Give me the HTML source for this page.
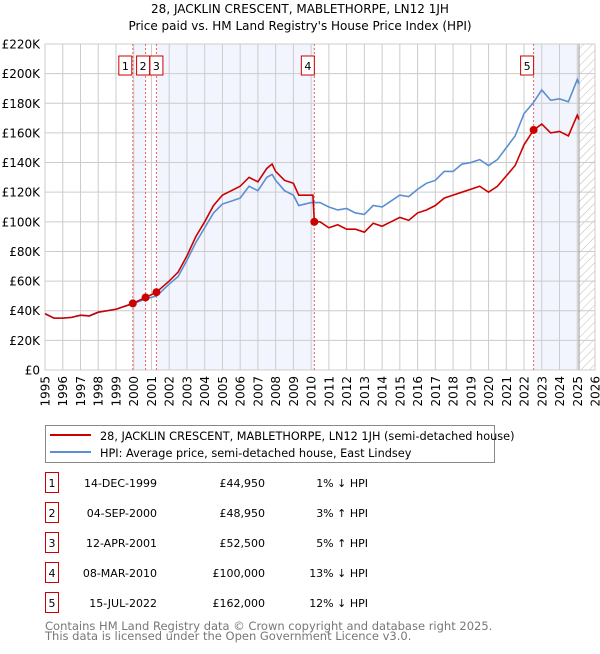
<!DOCTYPE html>
<html><head><meta charset="utf-8"><style>
body{margin:0;background:#fff;font-family:"DejaVu Sans","Liberation Sans",sans-serif;}
svg text{font-family:"DejaVu Sans","Liberation Sans",sans-serif;}
</style></head><body>
<svg id="chart" width="600" height="650" xmlns="http://www.w3.org/2000/svg">
<defs><pattern id="hatch" width="6" height="6" patternUnits="userSpaceOnUse" patternTransform="rotate(45)"><line x1="0" y1="0" x2="0" y2="6" stroke="#bbb" stroke-width="1"/></pattern></defs>
<text x="300" y="13" text-anchor="middle" font-size="12">28, JACKLIN CRESCENT, MABLETHORPE, LN12 1JH</text>
<text x="300" y="30" text-anchor="middle" font-size="12">Price paid vs. HM Land Registry's House Price Index (HPI)</text>
<g id="plot"></g>
<rect x="45.5" y="425.5" width="449" height="37" fill="#fff" stroke="#888"/>
<line x1="50" y1="435" x2="91" y2="435" stroke="#cc0000" stroke-width="2"/>
<text x="100" y="440" font-size="11.3">28, JACKLIN CRESCENT, MABLETHORPE, LN12 1JH (semi-detached house)</text>
<line x1="50" y1="452" x2="91" y2="452" stroke="#5b8fd1" stroke-width="2"/>
<text x="100" y="457" font-size="11.3">HPI: Average price, semi-detached house, East Lindsey</text>
<g id="table"></g>
<text x="45" y="630" font-size="11.5" fill="#777">Contains HM Land Registry data © Crown copyright and database right 2025.</text>
<text x="45" y="640" font-size="11.5" fill="#777">This data is licensed under the Open Government Licence v3.0.</text>
</svg>
<script>
const hpiYears=[1995,1995.5,1996,1996.5,1997,1997.5,1998,1998.5,1999,1999.5,2000,2000.7,2001.3,2002,2002.5,2003,2003.5,2004,2004.5,2005,2005.5,2006,2006.5,2007,2007.5,2007.8,2008,2008.5,2009,2009.3,2010,2010.5,2011,2011.5,2012,2012.5,2013,2013.5,2014,2014.5,2015,2015.5,2016,2016.5,2017,2017.5,2018,2018.5,2019,2019.5,2020,2020.5,2021,2021.5,2022,2022.5,2023,2023.5,2024,2024.5,2025,2025.1];
const hpiValues=[38,35,35,35.5,37,36.5,39,40,41,43,45,48,50,58,63,74,86,96,106,112,114,116,124,121,130,132,128,121,118,111,113,113,110,108,109,106,105,111,110,114,118,117,122,126,128,134,134,139,140,142,138,142,150,158,173,180,189,182,183,181,196,193];
const redYears=[1995,1995.5,1996,1996.5,1997,1997.5,1998,1998.5,1999,1999.5,1999.95,2000.67,2001.28,2002,2002.5,2003,2003.5,2004,2004.5,2005,2005.5,2006,2006.5,2007,2007.5,2007.8,2008,2008.5,2009,2009.3,2010.1,2010.18,2010.5,2011,2011.5,2012,2012.5,2013,2013.5,2014,2014.5,2015,2015.5,2016,2016.5,2017,2017.5,2018,2018.5,2019,2019.5,2020,2020.5,2021,2021.5,2022,2022.54,2023,2023.5,2024,2024.5,2025,2025.1];
const redValues=[38,35,35,35.5,37,36.5,39,40,41,43,44.95,48.95,52.5,60,66,77,90,100,111,118,121,124,130,127,136,139,134,128,126,118,118,100,100,96,98,95,95,93,99,97,100,103,101,106,108,111,116,118,120,122,124,120,124,131,138,152,162,166,160,161,158,172,169];
const saleLabels=["1","2","3","4","5"];
const saleDates=[1999.95,2000.67,2001.28,2010.18,2022.54];
const salePrices=[44950,48950,52500,100000,162000];
const saleDateText=["14-DEC-1999","04-SEP-2000","12-APR-2001","08-MAR-2010","15-JUL-2022"];
const salePriceText=["£44,950","£48,950","£52,500","£100,000","£162,000"];
const saleHpiText=["1% ↓ HPI","3% ↑ HPI","5% ↑ HPI","13% ↓ HPI","12% ↓ HPI"];
const yTicks=[0,20,40,60,80,100,120,140,160,180,200,220];
const xTicks=[1995,1996,1997,1998,1999,2000,2001,2002,2003,2004,2005,2006,2007,2008,2009,2010,2011,2012,2013,2014,2015,2016,2017,2018,2019,2020,2021,2022,2023,2024,2025,2026];
const X0=45,X1=595,Y0=370,Y1=44;
const xs=y=>X0+(y-1995)/(2026-1995)*(X1-X0);
const ys=v=>Y0-v/220*(Y0-Y1);
const NS="http://www.w3.org/2000/svg";
function mk(parent,tag,attrs){const e=document.createElementNS(NS,tag);for(const k in attrs)e.setAttribute(k,attrs[k]);parent.appendChild(e);return e;}
const g=document.getElementById('plot');
const bands=[[0,1],[2,3]];
for(const b of bands){const r=mk(g,'rect',{x:xs(saleDates[b[0]]),y:Y1,width:xs(saleDates[b[1]])-xs(saleDates[b[0]]),height:Y0-Y1,fill:'#f2f5fd'});

}
const rl=mk(g,'rect',{x:xs(saleDates[4]),y:Y1,width:xs(2025.1)-xs(saleDates[4]),height:Y0-Y1,fill:'#f2f5fd'});


const hr=mk(g,'rect',{x:xs(2025.1),y:Y1,width:X1-xs(2025.1),height:Y0-Y1,fill:'url(#hatch)'});


for(const t of yTicks){mk(g,'line',{x1:X0,x2:X1,y1:ys(t),y2:ys(t),stroke:'#ccc'});
const tx=mk(g,'text',{x:40,y:ys(t)+4.5,'text-anchor':'end','font-size':12});tx.textContent=t===0?'£0':'£'+t+'K';

}
for(const t of xTicks){mk(g,'line',{x1:xs(t),x2:xs(t),y1:Y1,y2:Y0,stroke:'#ccc'});
const tx=mk(g,'text',{x:xs(t)+4.5,y:376,'text-anchor':'end','font-size':12,transform:'rotate(-90 '+(xs(t)+4.5)+' 376)'});tx.textContent=t;

}
mk(g,'line',{x1:xs(2025.1),x2:xs(2025.1),y1:Y1,y2:Y0,stroke:'#999'});
mk(g,'rect',{x:X0,y:Y1,width:X1-X0,height:Y0-Y1,fill:'none',stroke:'#ccc'});
for(let i=0;i<saleDates.length;i++){const l=mk(g,'line',{x1:xs(saleDates[i]),x2:xs(saleDates[i]),y1:Y1,y2:Y0,stroke:'#f06060','stroke-dasharray':'2,2'});

}
const hp=mk(g,'polyline',{points:hpiYears.map((y,i)=>xs(y)+','+ys(hpiValues[i])).join(' '),fill:'none',stroke:'#5b8fd1','stroke-width':1.6});


const rp=mk(g,'polyline',{points:redYears.map((y,i)=>xs(y)+','+ys(redValues[i])).join(' '),fill:'none',stroke:'#cc0000','stroke-width':1.6});


const boxX=[xs(saleDates[0])-8,xs(saleDates[1])-3,xs(saleDates[2])-0.5,xs(saleDates[3])-7,xs(saleDates[4])-7];
for(let i=0;i<saleDates.length;i++){
const c=mk(g,'circle',{cx:xs(saleDates[i]),cy:ys(salePrices[i]/1000),r:4,fill:'#cc0000'});


const bx=mk(g,'rect',{x:boxX[i]-6,y:56,width:13,height:19,fill:'#fff',stroke:'#cc0000'});


const bt=mk(g,'text',{x:boxX[i]+0.5,y:70,'text-anchor':'middle','font-size':11});bt.textContent=saleLabels[i];

}
const tb=document.getElementById('table');
for(let i=0;i<saleDates.length;i++){const cy=483+i*30;
const r=mk(tb,'rect',{x:45.5,y:cy-10.5,width:13,height:20,fill:'#fff',stroke:'#cc0000'});


const a=mk(tb,'text',{x:52,y:cy+4,'text-anchor':'middle','font-size':11});a.textContent=saleLabels[i];


const d=mk(tb,'text',{x:157,y:cy+4,'text-anchor':'end','font-size':11});d.textContent=saleDateText[i];


const p=mk(tb,'text',{x:265,y:cy+4,'text-anchor':'end','font-size':11});p.textContent=salePriceText[i];


const h=mk(tb,'text',{x:368,y:cy+4,'text-anchor':'end','font-size':11});h.textContent=saleHpiText[i];

}
</script>
</body></html>
